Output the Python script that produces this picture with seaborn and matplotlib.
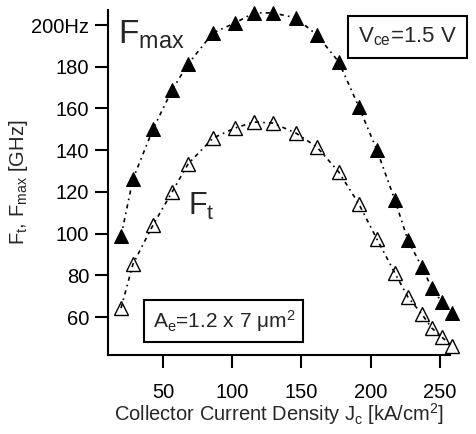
import matplotlib
matplotlib.use("Agg")
import matplotlib.pyplot as plt
import seaborn as sns
import pandas as pd

# Data
jc = [19.7, 28.3, 42.8, 56.5, 68.1, 86.1, 102, 115.7, 129.4, 146,
      161.2, 177, 191.5, 204.5, 217.5, 226.9, 237, 244.2, 251.4, 258.7]
fmax = [98.8, 126.2, 150.1, 168.8, 181.3, 196.2, 201.0, 205.8, 205.8, 203.4,
        195.2, 182.3, 160.7, 140.1, 116.1, 96.9, 84.0, 73.9, 67.2, 61.9]
ft = [64.3, 85.4, 104.1, 119.9, 133.4, 145.8, 150.6, 153.5, 153.0, 148.2,
      141.5, 129.5, 114.2, 97.4, 81.1, 69.6, 61.4, 54.7, 50.4, 46.1]
xticks = [50, 100, 150, 200, 250]
yticks = [60, 80, 100, 120, 140, 160, 180, 200]
yticklabels = ["60", "80", "100", "120", "140", "160", "180", "200Hz"]

df = pd.DataFrame({"jc": jc, "fmax": fmax, "ft": ft})

sns.set_style("ticks")
plt.rcParams["font.family"] = ["Liberation Sans", "DejaVu Sans"]
plt.rcParams["mathtext.fontset"] = "custom"
plt.rcParams["mathtext.rm"] = "Liberation Sans"
plt.rcParams["mathtext.it"] = "Liberation Sans:italic"
plt.rcParams["mathtext.bf"] = "Liberation Sans:bold"

fig = plt.figure(figsize=(4.76, 4.34), dpi=100)
ax = fig.add_axes([0.227, 0.182, 0.718, 0.795])

ls = (0, (2.5, 2.5, 1, 2.5))
sns.lineplot(data=df, x="jc", y="fmax", ax=ax, color="black", lw=1.2,
             linestyle=ls, marker="^", markersize=10, markerfacecolor="black",
             markeredgecolor="black", clip_on=False)
sns.lineplot(data=df, x="jc", y="ft", ax=ax, color="black", lw=1.2,
             linestyle=ls, marker="^", markersize=9.5, markerfacecolor="none",
             markeredgecolor="black", markeredgewidth=1.0, clip_on=False)

ax.set_xlim(10.3, 257.2)
ax.set_ylim(41.8, 207.2)
ax.set_xticks(xticks)
ax.set_yticks(yticks)
ax.set_yticklabels(yticklabels)
for s in ["top", "right"]:
    ax.spines[s].set_visible(False)
for s in ["left", "bottom"]:
    ax.spines[s].set_linewidth(1.5)
    ax.spines[s].set_color("black")
ax.tick_params(direction="out", length=9.5, width=1.5, labelsize=14.5,
               colors="black")
ax.tick_params(axis="x", pad=11)
ax.tick_params(axis="y", pad=4)

ax.set_xlabel(r"Collector Current Density J$_\mathregular{c}$ [kA/cm$^\mathregular{2}$]",
              fontsize=14.5, labelpad=-1)
ax.set_ylabel(r"F$_\mathregular{t}$, F$_\mathregular{max}$ [GHz]", fontsize=14.5,
              labelpad=1)

ax.text(0.029, 0.975, r"F$_\mathregular{max}$", transform=ax.transAxes,
        fontsize=24, ha="left", va="top")
ax.text(0.234, 0.475, r"F$_\mathregular{t}$", transform=ax.transAxes,
        fontsize=22, ha="left", va="top")

ax.text(0.876, 0.922, r"V$_\mathregular{ce}$=1.5 V", transform=ax.transAxes,
        fontsize=16, ha="center", va="center", clip_on=False,
        bbox=dict(boxstyle="square,pad=0.45", fc="white", ec="black", lw=1.5))
ax.text(0.339, 0.099, r"A$_\mathregular{e}$=1.2 x 7 μm$^\mathregular{2}$",
        transform=ax.transAxes, fontsize=15, ha="center", va="center",
        bbox=dict(boxstyle="square,pad=0.4", fc="white", ec="black", lw=1.5))

fig.savefig("out.png", dpi=100, facecolor="white")
